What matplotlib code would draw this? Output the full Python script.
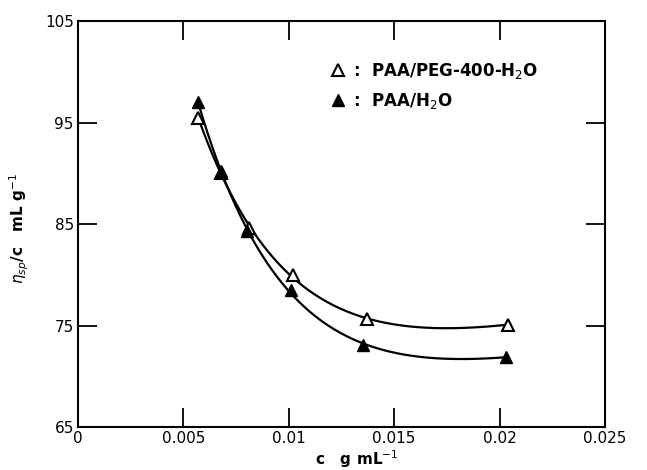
import numpy as np
import matplotlib
matplotlib.use('Agg')
import matplotlib.pyplot as plt

# concentration (g/mL) and reduced viscosity (mL/g)
c_peg = [0.0057, 0.0068, 0.0081, 0.0102, 0.0137, 0.0204]
eta_peg = [95.5, 90.0, 84.6, 80.0, 75.6, 75.1]
c_h2o = [0.0057, 0.0068, 0.0080, 0.0101, 0.0135, 0.0203]
eta_h2o = [97.0, 90.2, 84.3, 78.5, 73.1, 71.9]

xticks = [0, 0.005, 0.01, 0.015, 0.02, 0.025]
xticklabels = ['0', '0.005', '0.01', '0.015', '0.02', '0.025']
yticks = [65, 75, 85, 95, 105]


def smooth_fit(cx, cy):
    # a + b*exp(-c/tau) + d*c, tau picked by least squares on a grid
    cx, cy = np.array(cx), np.array(cy)
    best = None
    for tau in np.linspace(0.001, 0.02, 400):
        A = np.column_stack([np.ones_like(cx), np.exp(-cx / tau), cx])
        coef, res, *_ = np.linalg.lstsq(A, cy, rcond=None)
        err = np.sum((A @ coef - cy) ** 2)
        if best is None or err < best[0]:
            best = (err, tau, coef)
    _, tau, coef = best
    xs = np.linspace(cx.min(), cx.max(), 200)
    return xs, coef[0] + coef[1] * np.exp(-xs / tau) + coef[2] * xs


plt.rcParams['font.family'] = 'DejaVu Sans'
fig = plt.figure(figsize=(6.47, 4.70), dpi=100)
ax = fig.add_axes([0.1206, 0.0915, 0.8144, 0.8635])

for cx, cy in [(c_peg, eta_peg), (c_h2o, eta_h2o)]:
    xs, ys = smooth_fit(cx, cy)
    ax.plot(xs, ys, color='black', lw=1.6, zorder=2)

ax.plot(c_peg, eta_peg, ls='none', marker='^', ms=9, mfc='white', mec='black',
        mew=1.5, zorder=3, label=':  PAA/PEG-400-H$_2$O')
ax.plot(c_h2o, eta_h2o, ls='none', marker='^', ms=9, mfc='black', mec='black',
        zorder=4, label=':  PAA/H$_2$O')

ax.set_xlim(0, 0.025)
ax.set_ylim(65, 105)
ax.set_xticks(xticks)
ax.set_xticklabels(xticklabels)
ax.set_yticks(yticks)
ax.tick_params(direction='in', length=14, width=1.3, top=True, right=True,
               labelsize=11, pad=3)
for s in ax.spines.values():
    s.set_linewidth(1.5)

ax.set_xlabel('c   g mL$^{-1}$', fontsize=11, fontweight='bold')
ax.xaxis.set_label_coords(0.53, -0.052)
ax.set_ylabel('$\\eta_{sp}$/c   mL g$^{-1}$', fontsize=11, fontweight='bold')
ax.yaxis.set_label_coords(-0.09, 0.49)

ax.legend(loc='upper left', bbox_to_anchor=(0.455, 0.94), frameon=False,
          handlelength=0.6, handletextpad=0.6, labelspacing=0.6,
          prop={'weight': 'bold', 'size': 12})

fig.savefig('out.png', dpi=100)
